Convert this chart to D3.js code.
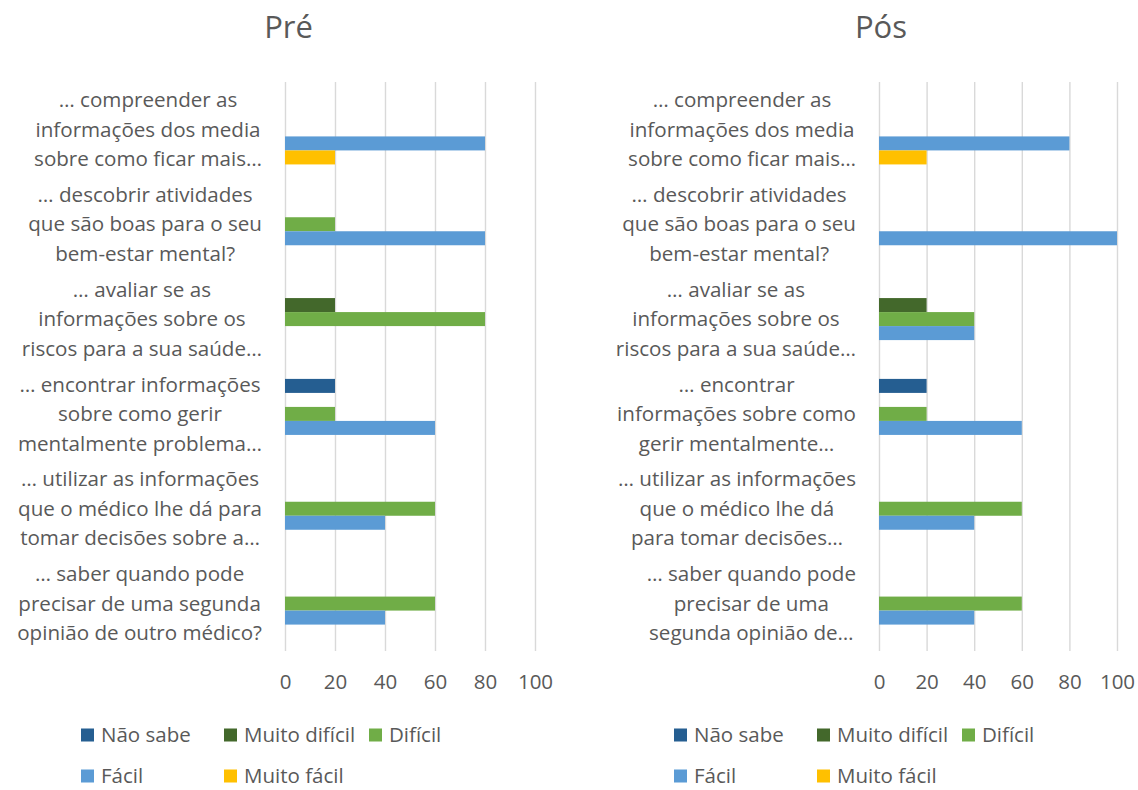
<!DOCTYPE html>
<html>
<head>
<meta charset="utf-8">
<script src="https://cdn.jsdelivr.net/npm/d3@7"></script>
<style>
  body { margin: 0; background: #fff; }
  text { font-family: "Open Sans", sans-serif; fill: #595959; }
</style>
</head>
<body>
<div id="chart"></div>
<script>
const series = ["Não sabe", "Muito difícil", "Difícil", "Fácil", "Muito fácil"];
const colors = ["#255E91", "#43682B", "#70AD47", "#5B9BD5", "#FFC000"];
const ticks = [0, 20, 40, 60, 80, 100];

// category labels, as wrapped in each panel
const labelsPre = [
  ["… compreender as", "informações dos media", "sobre como ficar mais…"],
  ["… descobrir atividades", "que são boas para o seu", "bem-estar mental?"],
  ["… avaliar se as", "informações sobre os", "riscos para a sua saúde…"],
  ["… encontrar informações", "sobre como gerir", "mentalmente problema…"],
  ["… utilizar as informações", "que o médico lhe dá para", "tomar decisões sobre a…"],
  ["… saber quando pode", "precisar de uma segunda", "opinião de outro médico?"]
];
const labelsPos = [
  ["… compreender as", "informações dos media", "sobre como ficar mais…"],
  ["… descobrir atividades", "que são boas para o seu", "bem-estar mental?"],
  ["… avaliar se as", "informações sobre os", "riscos para a sua saúde…"],
  ["… encontrar", "informações sobre como", "gerir mentalmente…"],
  ["… utilizar as informações", "que o médico lhe dá", "para tomar decisões…"],
  ["… saber quando pode", "precisar de uma", "segunda opinião de…"]
];

// values per category: [Não sabe, Muito difícil, Difícil, Fácil, Muito fácil]
const valuesPre = [
  [0, 0, 0, 80, 20],
  [0, 0, 20, 80, 0],
  [0, 20, 80, 0, 0],
  [20, 0, 20, 60, 0],
  [0, 0, 60, 40, 0],
  [0, 0, 60, 40, 0]
];
const valuesPos = [
  [0, 0, 0, 80, 20],
  [0, 0, 0, 100, 0],
  [0, 20, 40, 40, 0],
  [20, 0, 20, 60, 0],
  [0, 0, 60, 40, 0],
  [0, 0, 60, 40, 0]
];

const width = 1138, height = 790;
const svg = d3.select("#chart").append("svg")
  .attr("width", width)
  .attr("height", height);

const panels = [
  { title: "Pré", labels: labelsPre, values: valuesPre, x0: 285, x1: 535, titleX: 288.5, legendX: 81 },
  { title: "Pós", labels: labelsPos, values: valuesPos, x0: 879, x1: 1117, titleX: 881, legendX: 674 }
];

const plotTop = 82, plotBottom = 651;

panels.forEach(p => {
  const g = svg.append("g");
  const x = d3.scaleLinear().domain([0, 100]).range([p.x0, p.x1]);
  const y = d3.scaleBand()
    .domain(d3.range(p.labels.length))
    .range([plotTop, plotBottom])
    .paddingInner(0.2616)
    .paddingOuter(0.1308);
  const ys = d3.scaleBand().domain(series).range([0, y.bandwidth()]);

  g.append("text")
    .attr("x", p.titleX)
    .attr("y", 38)
    .attr("text-anchor", "middle")
    .style("font-size", "31px")
    .text(p.title);

  // gridlines + tick labels
  const axis = g.append("g")
    .attr("transform", `translate(0,${plotBottom})`)
    .call(d3.axisBottom(x).tickValues(ticks).tickSize(-(plotBottom - plotTop)).tickPadding(23));
  axis.select(".domain").remove();
  axis.selectAll("line").attr("stroke", "#d9d9d9").attr("stroke-width", 1.4);
  axis.selectAll("text")
    .style("font-size", "20.5px")
    .style("font-family", "'Open Sans', sans-serif")
    .attr("fill", "#595959");

  // bars
  p.values.forEach((row, i) => {
    g.selectAll(null)
      .data(row.map((v, j) => ({ v, s: series[j], c: colors[j] })).filter(d => d.v > 0))
      .enter()
      .append("rect")
      .attr("x", x(0))
      .attr("y", d => y(i) + ys(d.s))
      .attr("width", d => x(d.v) - x(0))
      .attr("height", ys.bandwidth())
      .attr("fill", d => d.c);
  });

  // category labels: block right-aligned, lines centred inside
  p.labels.forEach((lines, i) => {
    const t = g.append("text")
      .attr("text-anchor", "middle")
      .style("font-size", "20.6px");
    const cy = y(i) + y.bandwidth() / 2;
    const lh = 29.5;
    lines.forEach((ln, k) => {
      t.append("tspan")
        .attr("y", cy + (k - (lines.length - 1) / 2) * lh)
        .attr("dy", "0.35em")
        .text(ln);
    });
    const maxW = d3.max(t.selectAll("tspan").nodes(), n => n.getComputedTextLength());
    const right = x(0) - 23;
    t.selectAll("tspan").attr("x", right - maxW / 2);
  });

  // legend
  const offs = [0, 143, 288, 0, 143];
  const rows = [735, 735, 735, 776, 776];
  series.forEach((s, j) => {
    const lx = p.legendX + offs[j];
    g.append("rect")
      .attr("x", lx).attr("y", rows[j] - 6.5)
      .attr("width", 13).attr("height", 13)
      .attr("fill", colors[j]);
    g.append("text")
      .attr("x", lx + 20)
      .attr("y", rows[j])
      .attr("dy", "0.35em")
      .style("font-size", "20.5px")
      .text(s);
  });
});
</script>
</body>
</html>
